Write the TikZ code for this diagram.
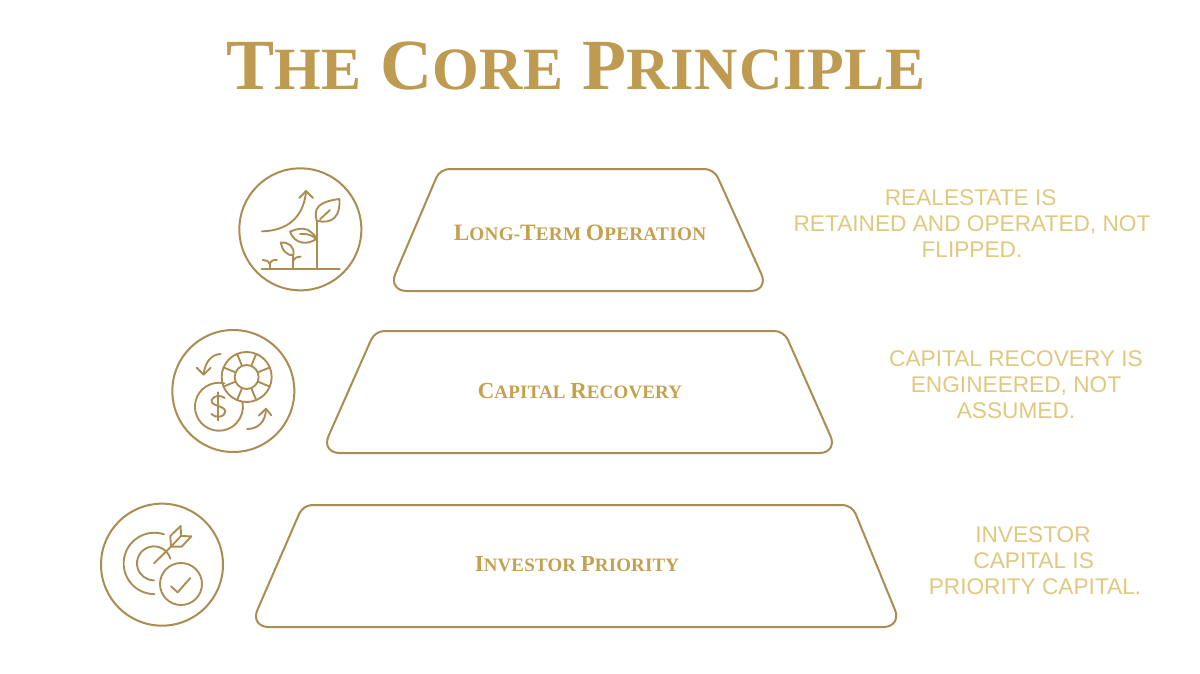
\documentclass[tikz,border=0pt]{standalone}
\usepackage{fontspec}
\setmainfont{Liberation Serif}
\newfontfamily\bodyf{Liberation Sans}
\definecolor{gline}{HTML}{AB8C52}
\definecolor{gtitle}{HTML}{BF9B52}
\definecolor{glabel}{HTML}{C5A04E}
\definecolor{gtext}{HTML}{E0C97F}
\newcommand{\bigsm}[4]{{\fontsize{#1}{#1}\selectfont #3}{\fontsize{#2}{#2}\selectfont #4}}
\newcommand{\tw}[2]{\bigsm{54}{45}{#1}{\addfontfeature{LetterSpace=1.4}#2}}
\newcommand{\lw}[2]{\bigsm{17.6}{14.4}{#1}{\addfontfeature{LetterSpace=1.5}#2}}
\newcommand{\lwb}[2]{\bigsm{17.2}{14.2}{#1}{\addfontfeature{LetterSpace=1.0}#2}}
\tikzset{
 trap/.style={draw=gline,line width=1.5pt,line join=round},
 ring/.style={draw=gline,line width=1.5pt},
 ico/.style={draw=gline,line width=1.4pt,line cap=round,line join=round},
 lab/.style={text=glabel,font=\bfseries\fontsize{14.4}{16}\selectfont,anchor=center,inner sep=0pt},
 side/.style={text=gtext,font=\bodyf\fontsize{17}{19.4}\selectfont,align=center,inner sep=0pt},
 zoomed/.style={x=.25pt,y=-.25pt}
}
\begin{document}
\begin{tikzpicture}[x=.75pt,y=-.75pt]
\useasboundingbox (0,0) rectangle (1200,674);
\fill[white] (0,0) rectangle (1200,674);
\node[text=gtitle,font=\bfseries,inner sep=0pt] (title) at (576,66) {\tw{T}{HE}\hspace{14pt}\tw{C}{ORE}\hspace{14pt}\tw{P}{RINCIPLE}};
% trapezoids
\draw[trap] (577,169) [rounded corners=7pt] -- (714,169) [rounded corners=14pt] -- (769,291) -- (388,291) [rounded corners=7pt] -- (440,169) -- (577,169);
\draw[trap] (580,331) [rounded corners=7pt] -- (784,331) [rounded corners=14pt] -- (838,453) -- (321,453) [rounded corners=7pt] -- (375,331) -- (580,331);
\draw[trap] (577,505) [rounded corners=7pt] -- (852,505) [rounded corners=14pt] -- (902,627) -- (250,627) [rounded corners=7pt] -- (303,505) -- (577,505);
\node[lab] (l1) at (580,233) {\lw{L}{ONG}-\lw{T}{ERM} \lw{O}{PERATION}};
\node[lab] (l2) at (580,391) {\lwb{C}{APITAL} \lwb{R}{ECOVERY}};
\node[lab] (l3) at (577,564) {\lwb{I}{NVESTOR} \lwb{P}{RIORITY}};
\node[side] (t1) at (972,223.5) {REALESTATE IS\kern 2pt\\RETAINED AND OPERATED, NOT\\FLIPPED.};
\node[side] (t2) at (1016,385) {CAPITAL RECOVERY IS\\ENGINEERED, NOT\\ASSUMED.};
\node[side] (t3) at (1035,561) {INVESTOR\kern 3pt\\CAPITAL IS\kern 2pt\\PRIORITY CAPITAL.};
% icon 1
\begin{scope}[shift={(220,150)},zoomed]
\draw[ring] (241,238) circle (183);
\draw[ico] (125,356) -- (360,356);
\draw[ico] (126,244) .. controls (200,242) and (250,205) .. (258,125);
\draw[ico] (238,144) -- (258,123) -- (279,144);
\draw[ico] (290,356) -- (290,212);
\draw[ico] (290,212) .. controls (280,175) and (295,155) .. (358,147) .. controls (362,195) and (340,225) .. (290,212) -- cycle;
\draw[ico] (300,208) -- (330,180);
\draw[ico] (290,266) .. controls (265,225) and (235,235) .. (210,245) .. controls (225,285) and (265,285) .. (290,266) -- cycle;
\draw[ico] (240,252) .. controls (260,250) and (275,255) .. (288,266);
\draw[ico] (220,356) -- (220,315);
\draw[ico] (220,315) .. controls (205,320) and (185,300) .. (182,278) .. controls (205,275) and (225,290) .. (220,315) -- cycle;
\draw[ico] (220,332) .. controls (225,322) and (232,320) .. (242,320);
\draw[ico] (149,356) -- (149,342);
\draw[ico] (149,342) .. controls (145,332) and (138,330) .. (128,330);
\draw[ico] (149,342) .. controls (153,332) and (160,329) .. (171,330);
\end{scope}
% icon 2
\begin{scope}[shift={(155,315)},zoomed]
\draw[ring] (235,228) circle (183);
\draw[ico] (275,186) circle (75);
\draw[ico] (275,186) circle (36);
\foreach \a in {22.5,67.5,...,360}{\draw[ico] (275,186)++(\a:36) -- ++(\a:39);}
\draw[ico] (208,205) arc[start angle=-77,end angle=-370,radius=72];
\draw[ico] (190,232) -- (190,316);
\draw[ico] (209,249) .. controls (200,240) and (175,240) .. (170,255) .. controls (165,275) and (210,270) .. (211,290) .. controls (210,308) and (180,310) .. (169,297);
\draw[ico] (197,117) .. controls (170,118) and (150,140) .. (146,178);
\draw[ico] (125,158) -- (146,179) -- (167,158);
\draw[ico] (276,342) .. controls (310,342) and (332,320) .. (333,282);
\draw[ico] (311,302) -- (333,281) -- (349,301);
\end{scope}
% icon 3
\begin{scope}[shift={(85,490)},zoomed]
\draw[ring] (231,224) circle (183);
\draw[ico] (237,133) arc[start angle=-71.6,end angle=-270,radius=92];
\draw[ico] (256,206) arc[start angle=-16,end angle=-270,radius=51];
\draw[ico] (207,220) -- (258,170);
\draw[ico] (258,170) -- (256,138) -- (287,108) -- (288,138) -- (319,139) -- (290,170) -- (258,170);
\draw[ico] (288,138) -- (258,170);
\draw[ico] (288,282) circle (63);
\draw[ico] (258,289) -- (278,307) -- (316,264);
\end{scope}
\end{tikzpicture}
\end{document}
